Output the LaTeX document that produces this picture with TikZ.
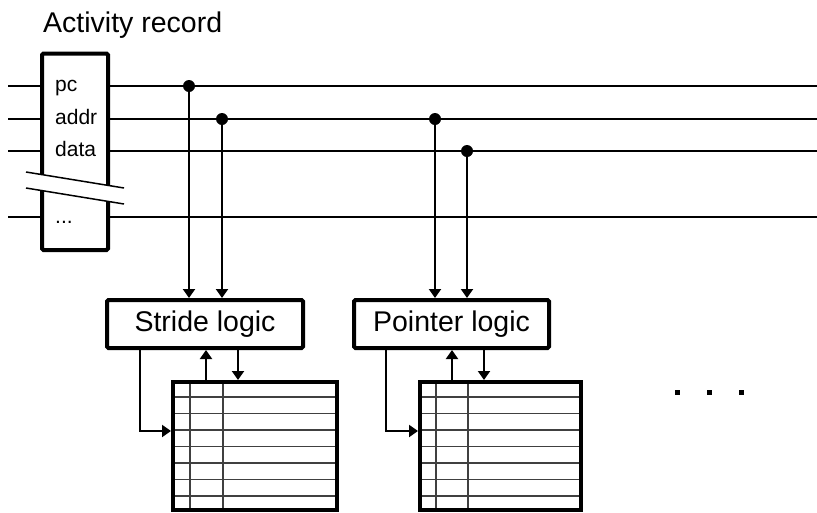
\documentclass[tikz,border=0pt]{standalone}
\usepackage{fontspec}
\setmainfont{Liberation Sans}
\usetikzlibrary{arrows.meta}
\begin{document}
\begin{tikzpicture}[x=1pt,y=-1pt,
  bus/.style={line width=2pt},
  heavybox/.style={draw,line width=4pt,rounded corners=1.5pt,fill=white,inner sep=0pt},
  arrowline/.style={line width=2pt,-{Triangle[length=9pt,width=12pt]}},
  gridline/.style={line width=1.3pt,draw=black!75},
  tapdot/.style={circle,fill=black,inner sep=0pt,minimum size=12pt},
  fieldname/.style={font=\fontsize{21}{24}\selectfont,inner sep=0pt,anchor=base west},
  bigtext/.style={font=\fontsize{28.5}{32}\selectfont},
  dotmark/.style={rectangle,fill=black,inner sep=0pt,minimum size=5pt}]
\useasboundingbox (0,0) rectangle (817,512);

% title
\node[bigtext,inner sep=0pt,anchor=base west] (title) at (43,32) {Activity record};

% signal buses
\foreach \n/\y in {pc/86,addr/119,data/151,more/217}{
  \coordinate (\n L) at (8,\y);
  \coordinate (\n R) at (817,\y);
  \draw[bus] (\n L) -- (\n R);
}

% activity record box with break marks
\node[heavybox,minimum width=66pt,minimum height=196.5pt] (record) at (75,151.75) {};
\fill[white] (26,172) -- (124,188) -- (124,204) -- (26,188) -- cycle;
\draw[line width=1.5pt] (26,172) -- (124,188);
\draw[line width=1.5pt] (26,188) -- (124,204);
\node[fieldname] (fpc)   at (55,91)  {pc};
\node[fieldname] (faddr) at (55,124) {addr};
\node[fieldname] (fdata) at (55,156) {data};
\node[fieldname] (fmore) at (55,223) {...};

% logic blocks
\node[heavybox,bigtext,minimum width=196pt,minimum height=48pt] (stride) at (205,324) {Stride logic};
\node[heavybox,bigtext,minimum width=195pt,minimum height=48pt] (pointer) at (451.5,324) {Pointer logic};

% taps from the buses into the logic blocks
\foreach \t/\x/\y/\blk in {t1/189/86/stride,t2/222/119/stride,t3/435/119/pointer,t4/467/151/pointer}{
  \coordinate (\t) at (\x,\y);
  \draw[arrowline] (\t) -- (\t |- \blk.north);
  \node[tapdot] (\t dot) at (\t) {};
}

% tables
\node[draw,line width=4pt,inner sep=0pt,minimum width=164pt,minimum height=128pt] (tabA) at (255,446) {};
\node[draw,line width=4pt,inner sep=0pt,minimum width=160.5pt,minimum height=128pt] (tabB) at (500.25,446) {};
\foreach \l/\r/\ca/\cb in {173/337/190/223,420/580.5/436/468}{
  \foreach \k in {0,...,6}{
    \draw[gridline] (\l,397+16.5*\k) -- (\r,397+16.5*\k);
  }
  \draw[gridline] (\ca,382) -- (\ca,510);
  \draw[gridline] (\cb,382) -- (\cb,510);
}
% redraw table borders above the grid
\draw[line width=4pt] (173,382) rectangle (337,510);
\draw[line width=4pt] (420,382) rectangle (580.5,510);

% block <-> table connections
\coordinate (aup) at (206,0);
\coordinate (adn) at (238,0);
\coordinate (aleft) at (140,431);
\draw[arrowline] (aup |- tabA.north) -- (aup |- stride.south);
\draw[arrowline] (adn |- stride.south) -- (adn |- tabA.north);
\draw[arrowline] (aleft |- stride.south) -- (aleft) -- (aleft -| tabA.west);

\coordinate (bup) at (452,0);
\coordinate (bdn) at (484,0);
\coordinate (bleft) at (386,431);
\draw[arrowline] (bup |- tabB.north) -- (bup |- pointer.south);
\draw[arrowline] (bdn |- pointer.south) -- (bdn |- tabB.north);
\draw[arrowline] (bleft |- pointer.south) -- (bleft) -- (bleft -| tabB.west);

% more blocks follow
\node[dotmark] (m1) at (677,392) {};
\node[dotmark] (m2) at (709,392) {};
\node[dotmark] (m3) at (741,392) {};
\end{tikzpicture}
\end{document}
